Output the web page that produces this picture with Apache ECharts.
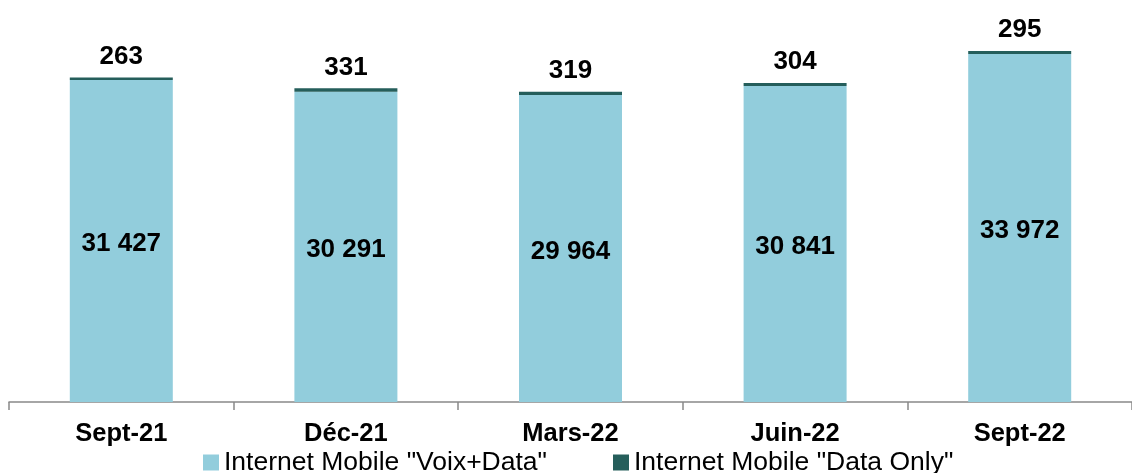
<!DOCTYPE html>
<html lang="fr">
<head>
    <meta charset="UTF-8">
    <title>Internet Mobile</title>
    <style>
        html, body { margin: 0; padding: 0; background: #fff; }
        #chart { width: 1132px; height: 473px; }
    </style>
</head>
<body>
    <div id="chart"></div>
    <script src="https://cdn.jsdelivr.net/npm/echarts@6/dist/echarts.min.js"></script>
    <script>
        var categories = ['Sept-21', 'Déc-21', 'Mars-22', 'Juin-22', 'Sept-22'];
        var voixData = [31427, 30291, 29964, 30841, 33972];
        var dataOnly = [263, 331, 319, 304, 295];

        function fmt(v) {
            return String(v).replace(/\B(?=(\d{3})+(?!\d))/g, ' ');
        }

        var myChart = echarts.init(document.getElementById('chart'));
        var font = 'Liberation Sans, Arial, sans-serif';

        var option = {
            animation: false,
            grid: { left: 9, right: 0, top: 43.5, bottom: 71 },
            legend: {
                left: 198,
                top: 444,
                itemWidth: 16,
                itemHeight: 16,
                itemGap: 66,
                icon: 'rect',
                textStyle: { fontFamily: font, fontSize: 26.5, color: '#000' },
                data: ['Internet Mobile "Voix+Data"', 'Internet Mobile "Data Only"']
            },
            xAxis: {
                type: 'category',
                data: categories,
                axisLine: { lineStyle: { color: '#898989', width: 1.5 } },
                axisTick: { show: true, alignWithLabel: false, length: 8, lineStyle: { color: '#898989', width: 1.5 } },
                axisLabel: { fontFamily: font, fontSize: 25.5, fontWeight: 'bold', color: '#000', margin: 19 }
            },
            yAxis: {
                type: 'value',
                min: 0,
                max: 35000,
                show: false,
                splitLine: { show: false }
            },
            series: [
                {
                    name: 'Internet Mobile "Voix+Data"',
                    type: 'bar',
                    stack: 'total',
                    barWidth: 103,
                    data: voixData,
                    itemStyle: { color: '#92CDDC' },
                    label: {
                        show: true,
                        position: 'inside',
                        offset: [0, 3],
                        fontFamily: font,
                        fontSize: 26,
                        fontWeight: 'bold',
                        color: '#000',
                        formatter: function (p) { return fmt(p.value); }
                    }
                },
                {
                    name: 'Internet Mobile "Data Only"',
                    type: 'bar',
                    stack: 'total',
                    barWidth: 103,
                    data: dataOnly,
                    itemStyle: { color: '#255E5B' },
                    label: {
                        show: true,
                        position: 'top',
                        distance: 8,
                        fontFamily: font,
                        fontSize: 26,
                        fontWeight: 'bold',
                        color: '#000',
                        formatter: function (p) { return fmt(p.value); }
                    }
                }
            ]
        };
        myChart.setOption(option);
    </script>
</body>
</html>
